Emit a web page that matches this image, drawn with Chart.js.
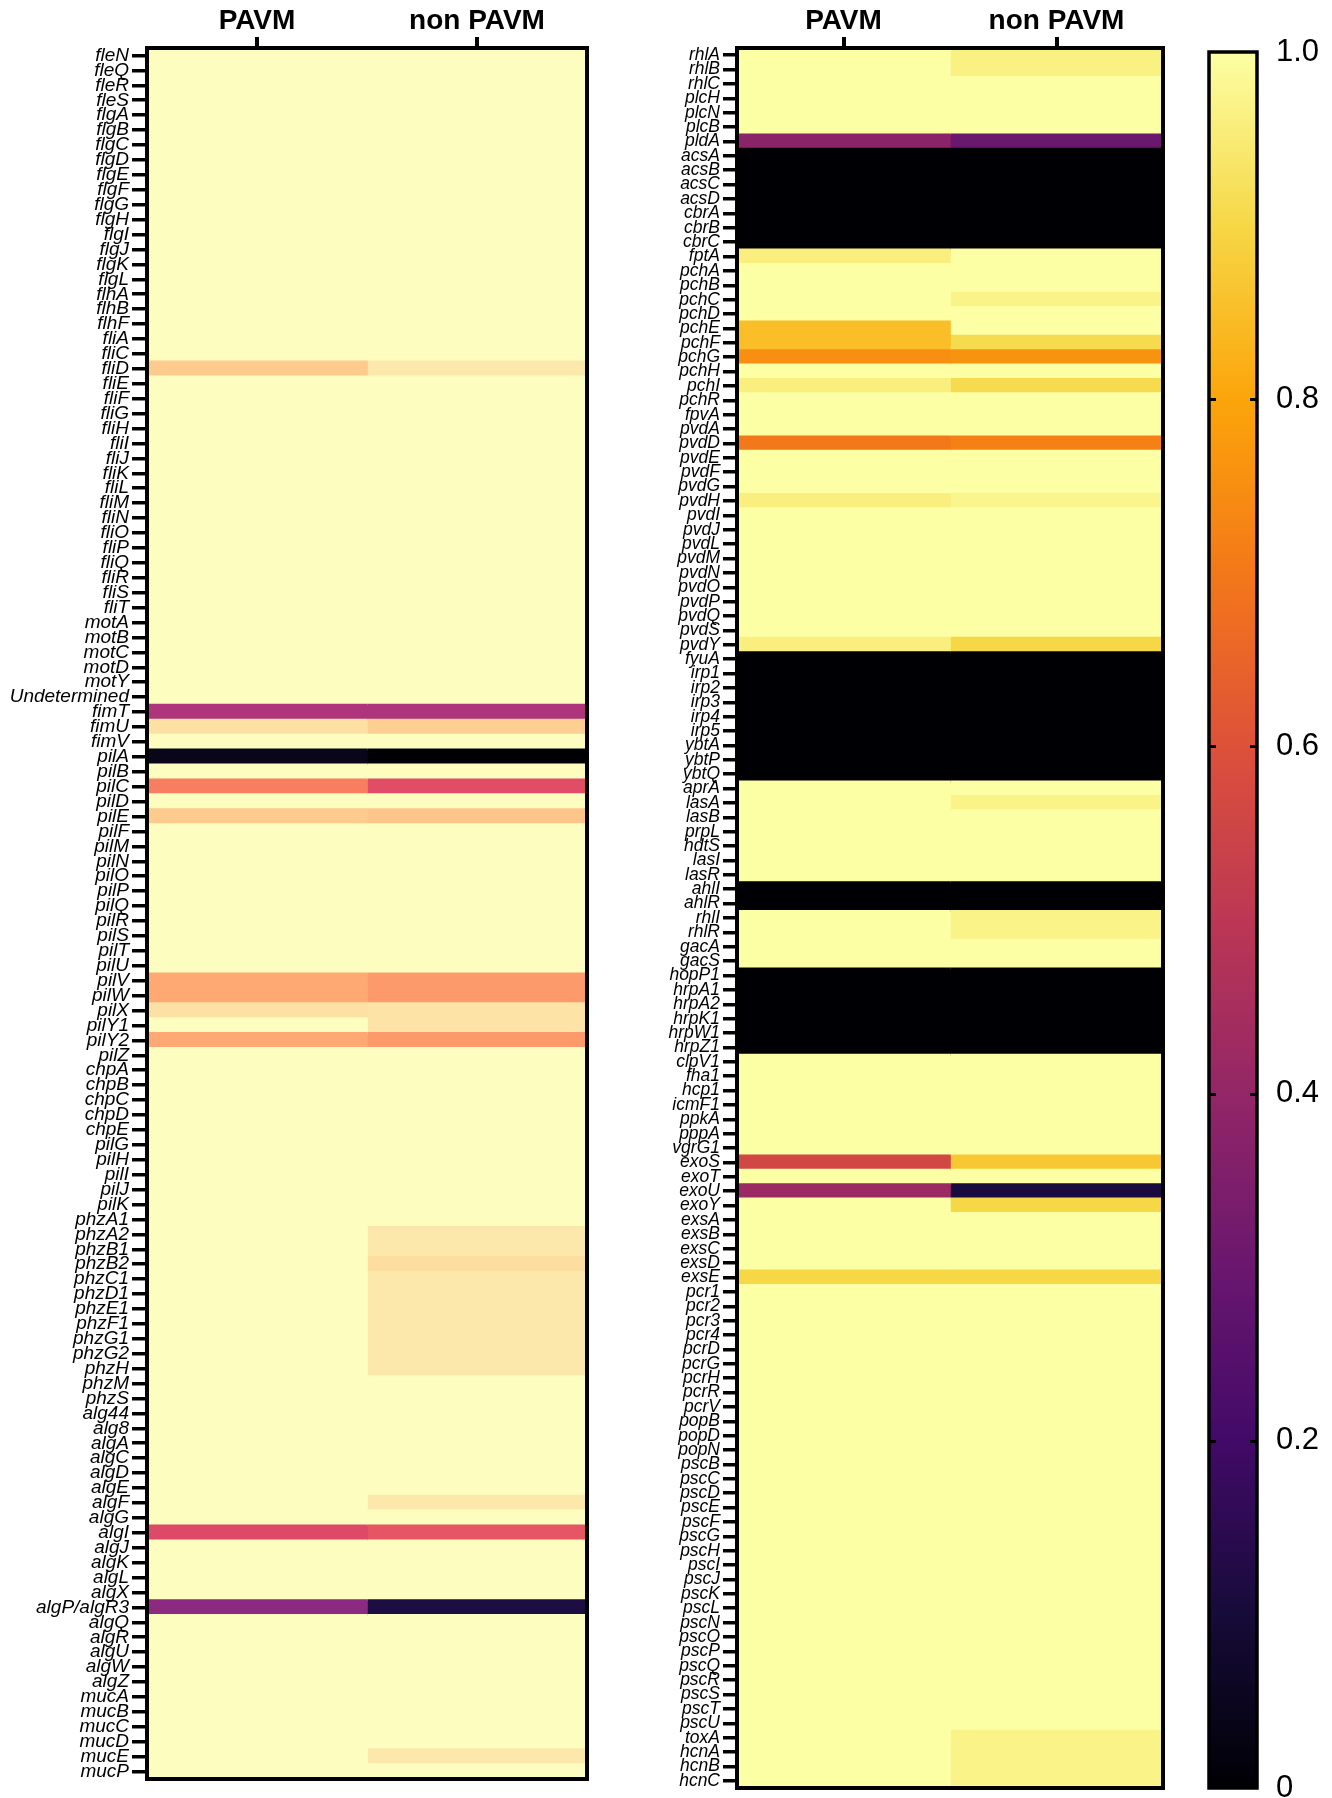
<!DOCTYPE html>
<html>
<head>
<meta charset="utf-8">
<script src="https://cdn.jsdelivr.net/npm/chart.js@4.4.1/dist/chart.umd.min.js"></script>
<style>
  html, body { margin: 0; padding: 0; background: #fff; }
  body { width: 1332px; height: 1798px; position: relative; overflow: hidden; }
  canvas { position: absolute; top: 0; }
</style>
</head>
<body>
<canvas id="leftMap" width="600" height="1798" style="left:0px"></canvas>
<canvas id="rightMap" width="590" height="1798" style="left:600px"></canvas>
<canvas id="scaleBar" width="142" height="1798" style="left:1190px"></canvas>
<script>
// ---- data -------------------------------------------------------------
const columns = ['PAVM', 'non PAVM'];

const leftGenes = [
  'fleN','fleQ','fleR','fleS',
  'flgA','flgB','flgC','flgD','flgE','flgF','flgG','flgH','flgI','flgJ','flgK','flgL',
  'flhA','flhB','flhF',
  'fliA','fliC','fliD','fliE','fliF','fliG','fliH','fliI','fliJ','fliK','fliL','fliM','fliN','fliO','fliP','fliQ','fliR','fliS','fliT',
  'motA','motB','motC','motD','motY',
  'Undetermined',
  'fimT','fimU','fimV',
  'pilA','pilB','pilC','pilD','pilE','pilF',
  'pilM','pilN','pilO','pilP','pilQ','pilR','pilS','pilT','pilU',
  'pilV','pilW','pilX','pilY1','pilY2','pilZ',
  'chpA','chpB','chpC','chpD','chpE',
  'pilG','pilH','pilI','pilJ','pilK',
  'phzA1','phzA2','phzB1','phzB2','phzC1','phzD1','phzE1','phzF1','phzG1','phzG2','phzH','phzM','phzS',
  'alg44','alg8','algA','algC','algD','algE','algF','algG','algI','algJ','algK','algL','algX',
  'algP/algR3',
  'algQ','algR','algU','algW','algZ',
  'mucA','mucB','mucC','mucD','mucE','mucP'
];

const leftPAVM = [
  1,1,1,1,
  1,1,1,1,1,1,1,1,1,1,1,1,
  1,1,1,
  1,1,0.89,1,1,1,1,1,1,1,1,1,1,1,1,1,1,1,1,
  1,1,1,1,1,
  1,
  0.48,0.94,1,
  0.04,1,0.73,1,0.89,1,
  1,1,1,1,1,1,1,1,1,
  0.82,0.82,0.94,1,0.82,1,
  1,1,1,1,1,
  1,1,1,1,1,
  1,1,1,1,1,1,1,1,1,1,1,1,1,
  1,1,1,1,1,1,1,1,0.60,1,1,1,1,
  0.40,
  1,1,1,1,1,
  1,1,1,1,1,1
];

const leftNonPAVM = [
  1,1,1,1,
  1,1,1,1,1,1,1,1,1,1,1,1,
  1,1,1,
  1,1,0.955,1,1,1,1,1,1,1,1,1,1,1,1,1,1,1,1,
  1,1,1,1,1,
  1,
  0.48,0.90,1,
  0.00,1,0.61,1,0.88,1,
  1,1,1,1,1,1,1,1,1,
  0.79,0.79,0.945,0.945,0.79,1,
  1,1,1,1,1,
  1,1,1,1,1,
  1,0.955,0.955,0.93,0.955,0.955,0.955,0.955,0.955,0.955,0.955,1,1,
  1,1,1,1,1,1,0.955,1,0.63,1,1,1,1,
  0.12,
  1,1,1,1,1,
  1,1,1,1,0.955,1
];

const rightGenes = [
  'rhlA','rhlB','rhlC','plcH','plcN','plcB','pldA',
  'acsA','acsB','acsC','acsD','cbrA','cbrB','cbrC',
  'fptA','pchA','pchB','pchC','pchD','pchE','pchF','pchG','pchH','pchI','pchR',
  'fpvA','pvdA','pvdD','pvdE','pvdF','pvdG','pvdH','pvdI','pvdJ','pvdL','pvdM','pvdN','pvdO','pvdP','pvdQ','pvdS','pvdY',
  'fyuA','irp1','irp2','irp3','irp4','irp5','ybtA','ybtP','ybtQ',
  'aprA','lasA','lasB','prpL','hdtS','lasI','lasR',
  'ahlI','ahlR',
  'rhlI','rhlR','gacA','gacS',
  'hopP1','hrpA1','hrpA2','hrpK1','hrpW1','hrpZ1',
  'clpV1','fha1','hcp1','icmF1','ppkA','pppA','vgrG1',
  'exoS','exoT','exoU','exoY',
  'exsA','exsB','exsC','exsD','exsE',
  'pcr1','pcr2','pcr3','pcr4','pcrD','pcrG','pcrH','pcrR','pcrV',
  'popB','popD','popN',
  'pscB','pscC','pscD','pscE','pscF','pscG','pscH','pscI','pscJ','pscK','pscL','pscN','pscO','pscP','pscQ','pscR','pscS','pscT','pscU',
  'toxA','hcnA','hcnB','hcnC'
];

const rightPAVM = [
  1,1,1,1,1,1,0.38,
  0,0,0,0,0,0,0,
  0.96,1,1,1,1,0.85,0.85,0.75,1,0.96,1,
  1,1,0.70,1,1,1,0.96,1,1,1,1,1,1,1,1,1,0.96,
  0,0,0,0,0,0,0,0,0,
  1,1,1,1,1,1,1,
  0,0,
  1,1,1,1,
  0,0,0,0,0,0,
  1,1,1,1,1,1,1,
  0.56,1,0.42,1,
  1,1,1,1,0.90,
  1,1,1,1,1,1,1,1,1,
  1,1,1,
  1,1,1,1,1,1,1,1,1,1,1,1,1,1,1,1,1,1,1,
  1,1,1,1
];

const rightNonPAVM = [
  0.965,0.965,1,1,1,1,0.30,
  0,0,0,0,0,0,0,
  1,1,1,0.97,1,1,0.91,0.76,1,0.91,1,
  1,1,0.72,1,1,1,0.975,1,1,1,1,1,1,1,1,1,0.90,
  0,0,0,0,0,0,0,0,0,
  1,0.97,1,1,1,1,1,
  0,0,
  0.97,0.97,1,1,
  0,0,0,0,0,0,
  1,1,1,1,1,1,1,
  0.87,1,0.11,0.90,
  1,1,1,1,0.90,
  1,1,1,1,1,1,1,1,1,
  1,1,1,
  1,1,1,1,1,1,1,1,1,1,1,1,1,1,1,1,1,1,1,
  0.97,0.97,0.97,0.97
];

const scaleTicks = [0, 0.2, 0.4, 0.6, 0.8, 1.0];
const scaleTickLabels = ['0', '0.2', '0.4', '0.6', '0.8', '1.0'];

// ---- colour maps ------------------------------------------------------
const INFERNO = ['#000004','#160b39','#420a68','#6a176e','#932667','#bc3754','#dd513a','#f37819','#fca50a','#f6d746','#fcffa4'];
const MAGMA   = ['#000004','#140e36','#3b0f70','#641a80','#8c2981','#b73779','#de4968','#f7705c','#fe9f6d','#fecf92','#fcfdbf'];

function hexToRgb(h) {
  return [parseInt(h.slice(1,3),16), parseInt(h.slice(3,5),16), parseInt(h.slice(5,7),16)];
}
function mapColour(stops, v) {
  const t = Math.max(0, Math.min(1, v)) * (stops.length - 1);
  const i = Math.min(stops.length - 2, Math.floor(t));
  const f = t - i;
  const a = hexToRgb(stops[i]), b = hexToRgb(stops[i + 1]);
  const c = a.map((x, k) => Math.round(x + (b[k] - x) * f));
  return 'rgb(' + c.join(',') + ')';
}

const FONT = "'Liberation Sans', Arial, Helvetica, sans-serif";

// black frame round the plotting area
const framePlugin = {
  id: 'frame',
  afterDatasetsDraw(chart, args, opts) {
    const a = chart.chartArea, ctx = chart.ctx;
    ctx.save();
    ctx.strokeStyle = '#000';
    ctx.lineWidth = opts.width || 4;
    ctx.strokeRect(a.left, a.top, a.right - a.left, a.bottom - a.top);
    ctx.restore();
  }
};

// short inner tick marks on both edges of the colour scale
const innerTicksPlugin = {
  id: 'innerTicks',
  afterDatasetsDraw(chart, args, opts) {
    if (!opts.enabled) return;
    const a = chart.chartArea, ctx = chart.ctx, y = chart.scales.y;
    ctx.save();
    ctx.strokeStyle = '#000';
    ctx.lineWidth = 3;
    scaleTicks.forEach(v => {
      if (v <= 0 || v >= 1) return;
      const py = Math.round(y.getPixelForValue(v)) + 0.5;
      ctx.beginPath();
      ctx.moveTo(a.left, py); ctx.lineTo(a.left + 7, py);
      ctx.moveTo(a.right - 7, py); ctx.lineTo(a.right, py);
      ctx.stroke();
    });
    ctx.restore();
  }
};

function heatmap(id, genes, pavm, nonPavm, stops, g) {
  const series = [pavm, nonPavm];
  return new Chart(document.getElementById(id), {
    type: 'bar',
    plugins: [framePlugin],
    data: {
      labels: genes,
      datasets: series.map((vals, col) => ({
        label: columns[col],
        data: vals.map(() => [col, col + 1]),
        backgroundColor: ctx => mapColour(stops, vals[ctx.dataIndex]),
        borderWidth: 0,
        inflateAmount: 0.8,
        barPercentage: 1,
        categoryPercentage: 1,
        grouped: false
      }))
    },
    options: {
      responsive: false,
      animation: false,
      indexAxis: 'y',
      layout: { padding: { left: 0, right: g.padRight, top: 0, bottom: g.padBottom } },
      plugins: {
        legend: { display: false },
        tooltip: { enabled: false },
        frame: { width: 4 }
      },
      scales: {
        y: {
          type: 'category',
          offset: true,
          grid: { drawOnChartArea: false, offset: false, tickLength: g.tickLength, lineWidth: 3.5, color: '#000' },
          border: { display: true, color: '#000', width: 4 },
          ticks: {
            autoSkip: false,
            color: '#000',
            padding: 3,
            font: { family: FONT, style: 'italic', size: g.labelSize }
          },
          afterFit: s => { s.width = g.axisWidth; s.paddingTop = 0; s.paddingBottom = 0; }
        },
        x: {
          type: 'linear',
          position: 'top',
          min: 0,
          max: 2,
          afterBuildTicks: s => { s.ticks = columns.map((c, i) => ({ value: i + 0.5 })); },
          ticks: {
            callback: (v, i) => columns[i],
            color: '#000',
            padding: -1,
            maxRotation: 0,
            font: { family: FONT, weight: 'bold', size: 28 }
          },
          grid: { drawOnChartArea: false, tickLength: 11, lineWidth: 4, color: '#000' },
          border: { display: true, color: '#000', width: 4 },
          afterFit: s => { s.height = 48; s.paddingLeft = 0; s.paddingRight = 0; }
        }
      }
    }
  });
}

heatmap('leftMap', leftGenes, leftPAVM, leftNonPAVM, MAGMA,
  { axisWidth: 147, padRight: 13, padBottom: 19, tickLength: 15, labelSize: 19 });
heatmap('rightMap', rightGenes, rightPAVM, rightNonPAVM, INFERNO,
  { axisWidth: 137, padRight: 27, padBottom: 10, tickLength: 14, labelSize: 17.5 });

// colour scale
new Chart(document.getElementById('scaleBar'), {
  type: 'bar',
  plugins: [framePlugin, innerTicksPlugin],
  data: {
    labels: [''],
    datasets: [{
      data: [[scaleTicks[0], scaleTicks[scaleTicks.length - 1]]],
      borderWidth: 0,
      barPercentage: 1,
      categoryPercentage: 1,
      backgroundColor: ctx => {
        const chart = ctx.chart;
        if (!chart.chartArea) return INFERNO[INFERNO.length - 1];
        const y = chart.scales.y;
        const grad = chart.ctx.createLinearGradient(0, y.getPixelForValue(0), 0, y.getPixelForValue(1));
        INFERNO.forEach((c, i) => grad.addColorStop(i / (INFERNO.length - 1), c));
        return grad;
      }
    }]
  },
  options: {
    responsive: false,
    animation: false,
    layout: { padding: { left: 19, right: 0, top: 52, bottom: 10 } },
    plugins: {
      legend: { display: false },
      tooltip: { enabled: false },
      frame: { width: 3.5 },
      innerTicks: { enabled: true }
    },
    scales: {
      x: { display: false },
      y: {
        type: 'linear',
        position: 'right',
        min: 0,
        max: 1,
        afterBuildTicks: s => { s.ticks = scaleTicks.map(v => ({ value: v })); },
        ticks: {
          callback: (v, i) => scaleTickLabels[i],
          color: '#000',
          padding: 11,
          font: { family: FONT, size: 31 }
        },
        grid: { display: false },
        border: { display: false },
        afterFit: s => { s.width = 75; s.paddingTop = 0; s.paddingBottom = 0; }
      }
    }
  }
});
</script>
</body>
</html>
